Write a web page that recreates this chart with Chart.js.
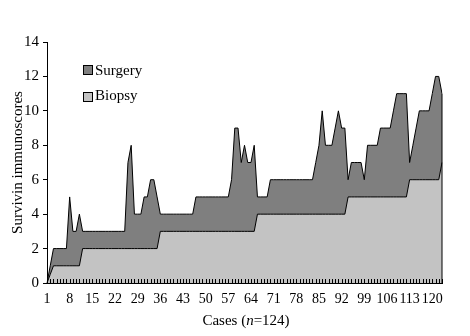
<!DOCTYPE html>
<html>
<head>
<meta charset="utf-8">
<script src="https://cdn.jsdelivr.net/npm/chart.js@4"></script>
<style>
  html, body { margin: 0; padding: 0; background: #fff; }
  #wrap { position: relative; width: 470px; height: 336px; overflow: hidden; }
  #chart { position: absolute; left: 0; top: 0; }
  .txt { position: absolute; font: 15px "Liberation Serif", "Times New Roman", serif; color: #000; line-height: 15px; white-space: nowrap; }
  .box { position: absolute; width: 8px; height: 8px; border: 1px solid #000; }
</style>
</head>
<body>
<div id="wrap">
  <canvas id="chart" width="470" height="336"></canvas>
  <div class="box" style="left:83px;top:65px;background:#7f7f7f"></div>
  <div class="txt" style="left:95px;top:63px">Surgery</div>
  <div class="box" style="left:83px;top:92px;background:#c3c3c3"></div>
  <div class="txt" style="left:95px;top:88px">Biopsy</div>
  <div class="txt" style="left:246px;top:313px;transform:translateX(-50%)">Cases (<i>n</i>=124)</div>
</div>
<script>
// Survivin immunoscore per case, surgical specimen vs. biopsy
const surgery = [
  0, 1, 2, 2, 2, 2, 2, 5, 3, 3, 4,
  3, 3, 3, 3, 3, 3, 3, 3, 3, 3, 3, 3, 3, 3,
  7, 8, 4, 4, 4, 5, 5, 6, 6, 5,
  4, 4, 4, 4, 4, 4, 4, 4, 4, 4, 4,
  5, 5, 5, 5, 5, 5, 5, 5, 5, 5, 5,
  6, 9, 9, 7, 8, 7, 7, 8,
  5, 5, 5, 5,
  6, 6, 6, 6, 6, 6, 6, 6, 6, 6, 6, 6, 6, 6,
  7, 8, 10, 8, 8, 8, 9, 10, 9, 9, 6,
  7, 7, 7, 7, 6, 8, 8, 8, 8,
  9, 9, 9, 9, 10, 11, 11, 11, 11,
  7, 8, 9, 10, 10, 10, 10, 11, 12, 12, 11
];
const biopsy = [
  0, 0.5,
  1, 1, 1, 1, 1, 1, 1, 1, 1,
  2, 2, 2, 2, 2, 2, 2, 2, 2, 2, 2, 2, 2, 2, 2, 2, 2, 2, 2, 2, 2, 2, 2, 2,
  3, 3, 3, 3, 3, 3, 3, 3, 3, 3, 3, 3, 3, 3, 3, 3, 3, 3, 3, 3, 3, 3, 3, 3, 3, 3, 3, 3, 3, 3,
  4, 4, 4, 4, 4, 4, 4, 4, 4, 4, 4, 4, 4, 4, 4, 4, 4, 4, 4, 4, 4, 4, 4, 4, 4, 4, 4, 4,
  5, 5, 5, 5, 5, 5, 5, 5, 5, 5, 5, 5, 5, 5, 5, 5, 5, 5, 5,
  6, 6, 6, 6, 6, 6, 6, 6, 6, 6,
  7
];
// case numbers along the x axis
const cases = surgery.map((_, i) => String(i + 1));
// case numbers that get a printed label
const tickLabels = ['1', '8', '15', '22', '29', '36', '43', '50', '57', '64', '71', '78', '85', '92', '99', '106', '113', '120'];
const yTicks = [0, 2, 4, 6, 8, 10, 12, 14];

const SERIF = "'Liberation Serif', 'Times New Roman', serif";
Chart.defaults.font.family = SERIF;
Chart.defaults.color = '#000';

// short inward tick for every case, plus the closing edge of the area at the last case
const caseTicks = {
  id: 'caseTicks',
  afterDatasetsDraw(chart) {
    const { ctx, chartArea, scales: { x, y } } = chart;
    ctx.save();
    ctx.strokeStyle = '#000';
    ctx.lineWidth = 1;
    ctx.beginPath();
    for (let i = 0; i < cases.length; i++) {
      const px = Math.round(x.getPixelForValue(i)) + 0.5;
      ctx.moveTo(px, chartArea.bottom);
      ctx.lineTo(px, chartArea.bottom - 4);
    }
    const last = cases.length - 1;
    const ex = x.getPixelForValue(last);
    ctx.moveTo(ex, y.getPixelForValue(surgery[last]));
    ctx.lineTo(ex, chartArea.bottom);
    ctx.stroke();
    ctx.restore();
  }
};

new Chart(document.getElementById('chart'), {
  type: 'line',
  data: {
    labels: cases,
    datasets: [
      {
        label: 'Surgery',
        data: surgery,
        order: 1,
        fill: 'origin',
        backgroundColor: '#7f7f7f',
        borderColor: '#000',
        borderWidth: 1,
        pointRadius: 0,
        tension: 0
      },
      {
        label: 'Biopsy',
        data: biopsy,
        order: 0,
        fill: 'origin',
        backgroundColor: '#c3c3c3',
        borderColor: '#000',
        borderWidth: 1,
        pointRadius: 0,
        tension: 0
      }
    ]
  },
  options: {
    responsive: false,
    animation: false,
    devicePixelRatio: 1,
    layout: { padding: { top: 42, right: 28, bottom: 0, left: 0 } },
    plugins: {
      legend: { display: false },
      tooltip: { enabled: false }
    },
    scales: {
      x: {
        type: 'category',
        offset: false,
        grid: { display: false },
        border: { display: true, color: '#000', width: 1 },
        ticks: {
          autoSkip: false,
          maxRotation: 0,
          minRotation: 0,
          padding: 0,
          font: { size: 14, family: SERIF },
          callback(value) {
            const lab = this.getLabelForValue(value);
            return tickLabels.includes(lab) ? lab : '';
          }
        },
        afterFit(scale) { scale.height = 53; }
      },
      y: {
        min: 0,
        max: 14,
        afterBuildTicks(scale) { scale.ticks = yTicks.map(v => ({ value: v })); },
        grid: { display: true, drawOnChartArea: false, drawTicks: true, tickLength: 4, color: '#000' },
        border: { display: true, color: '#000', width: 1 },
        ticks: { padding: 4, font: { size: 15, family: SERIF } },
        title: {
          display: true,
          text: 'Survivin immunoscores',
          font: { size: 15, family: SERIF },
          padding: { top: 9, bottom: 0 }
        },
        afterFit(scale) { scale.width = 47; }
      }
    }
  },
  plugins: [caseTicks]
});
</script>
</body>
</html>
